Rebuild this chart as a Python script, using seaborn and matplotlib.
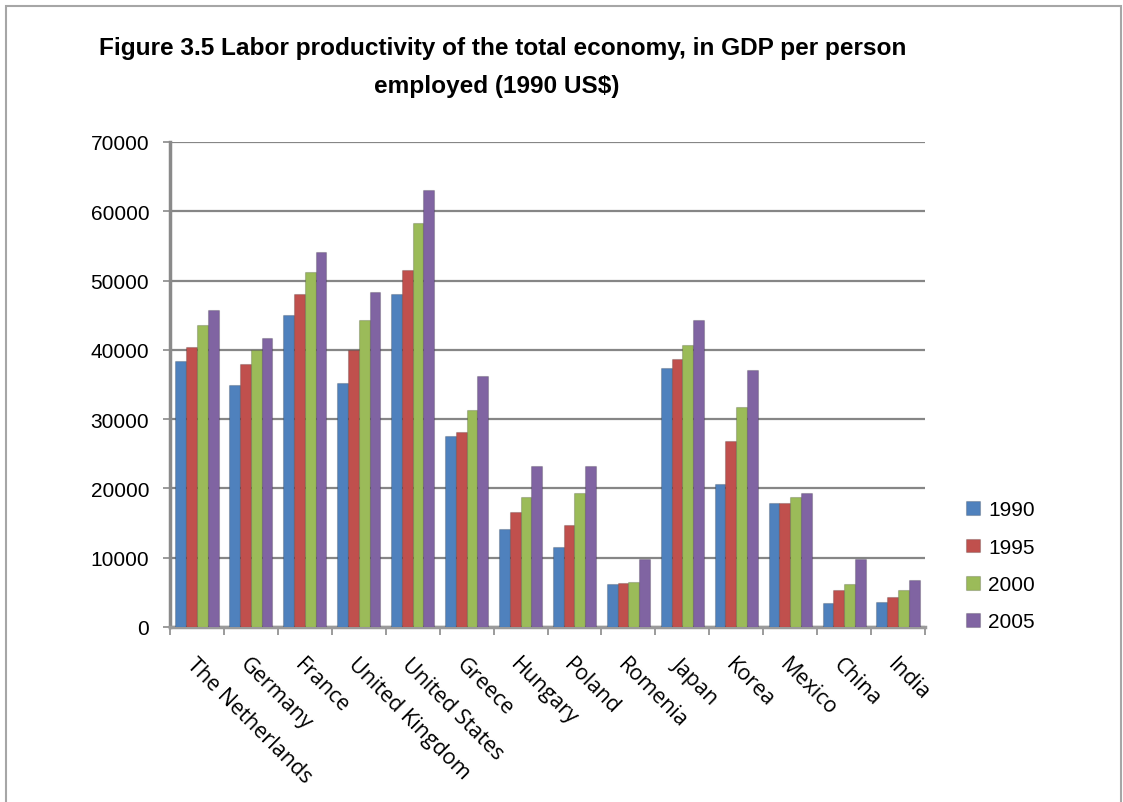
import matplotlib
matplotlib.use("Agg")
import matplotlib.pyplot as plt
import matplotlib.patches as mpatches
from matplotlib.ticker import FixedLocator
import seaborn as sns
import pandas as pd

# GDP per person employed (1990 US$)
countries = ["The Netherlands", "Germany", "France", "United Kingdom", "United States",
             "Greece", "Hungary", "Poland", "Romenia", "Japan", "Korea", "Mexico",
             "China", "India"]
years = ["1990", "1995", "2000", "2005"]
gdp_1990 = [38450, 34930, 45070, 35170, 48070, 27580, 14150, 11500, 6180, 37440, 20680, 17870, 3530, 3620]
gdp_1995 = [40480, 37920, 48120, 40000, 51590, 28160, 16670, 14730, 6330, 38700, 26860, 17870, 5310, 4400]
gdp_2000 = [43530, 39950, 51260, 44350, 58260, 31300, 18740, 19320, 6520, 40720, 31790, 18740, 6180, 5310]
gdp_2005 = [45700, 41690, 54110, 48310, 63140, 36280, 23190, 23190, 9810, 44350, 37100, 19320, 9810, 6810]
yticks = [0, 10000, 20000, 30000, 40000, 50000, 60000, 70000]
palette = ["#4F81BD", "#C0504D", "#9BBB59", "#8064A2"]

series = {"1990": gdp_1990, "1995": gdp_1995, "2000": gdp_2000, "2005": gdp_2005}
df = pd.DataFrame([
    {"country": c, "year": y, "value": v}
    for y in years for c, v in zip(countries, series[y])
])

sns.set_theme(style="white")
plt.rcParams["font.family"] = ["Liberation Sans", "DejaVu Sans"]
plt.rcParams["text.color"] = "black"
plt.rcParams["xtick.color"] = "black"
plt.rcParams["ytick.color"] = "black"

fig = plt.figure(figsize=(11.23, 8.03), dpi=100)
ax = fig.add_axes([170 / 1123, 1 - 628 / 803, (925 - 170) / 1123, (628 - 143) / 803])

sns.barplot(data=df, x="country", y="value", hue="year", order=countries,
            hue_order=years, palette=palette, width=0.8, saturation=1,
            linewidth=0, ax=ax, zorder=3, legend=True)

# thin dark outline gives the columns a little depth
for bar in ax.patches:
    bar.set_edgecolor((0, 0, 0, 0.18))
    bar.set_linewidth(0.8)

ax.set_ylim(0, 70000)
ax.set_yticks(yticks)
ax.set_yticklabels([str(t) for t in yticks], fontsize=15, family=["Liberation Sans", "DejaVu Sans"])
ax.yaxis.grid(True, color="#868686", linewidth=1.6, zorder=0)
ax.set_axisbelow(True)
ax.set_xlabel("")
ax.set_ylabel("")

for side in ["top", "right"]:
    ax.spines[side].set_visible(False)
ax.spines["left"].set_color("#8A8A8A")
ax.spines["left"].set_linewidth(2.5)
ax.spines["bottom"].set_color("#9A9A9A")
ax.spines["bottom"].set_linewidth(2.5)

ax.tick_params(axis="y", which="major", left=True, length=5, width=1.2,
               color="#8A8A8A", pad=10, labelcolor="black")
ax.tick_params(axis="x", which="major", bottom=False, length=0, pad=19, labelcolor="black")
ax.xaxis.set_minor_locator(FixedLocator([i - 0.5 for i in range(len(countries) + 1)]))
ax.tick_params(axis="x", which="minor", bottom=True, length=6, width=1.2, color="#8A8A8A")

for lbl in ax.get_xticklabels():
    lbl.set_rotation(-45)
    lbl.set_rotation_mode("anchor")
    lbl.set_ha("left")
    lbl.set_va("top")
    lbl.set_fontsize(15.5)
    lbl.set_family(["Open Sans", "DejaVu Sans"])

# legend to the right of the plot
handles, labels = ax.get_legend_handles_labels()
ax.get_legend().remove()
fig.legend(handles, labels, loc="center left", bbox_to_anchor=(958 / 1123, 1 - 567 / 803),
           frameon=False, fontsize=15, handlelength=0.65, handleheight=0.65,
           labelspacing=0.88, handletextpad=0.4, borderaxespad=0, labelcolor="black")

# title
title_font = dict(ha="center", va="center", fontsize=17.6, fontweight="bold",
                  color="black", family=["Liberation Sans", "DejaVu Sans"])
fig.text(0.448, 1 - 48 / 803,
         "Figure 3.5 Labor productivity of the total economy, in GDP per person",
         **title_font)
fig.text(0.442, 1 - 86 / 803, "employed (1990 US$)", **title_font)

# outer frame
fig.patches.append(mpatches.Rectangle((6 / 1123, -0.02), (1121 - 6) / 1123, 1 - 7 / 803 + 0.02,
                                      transform=fig.transFigure, fill=False,
                                      edgecolor="#A6A6A6", linewidth=1.5))

fig.savefig("out.png", dpi=100)
